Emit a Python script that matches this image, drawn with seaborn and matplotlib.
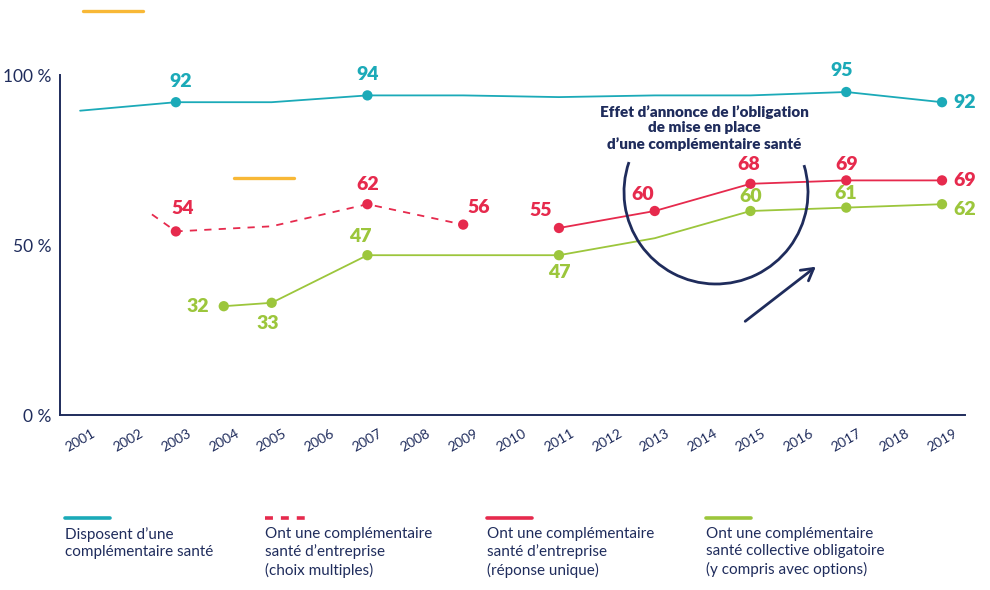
import pandas as pd
import seaborn as sns
import matplotlib.pyplot as plt
from matplotlib.lines import Line2D
from matplotlib.patches import Arc

# données
years = list(range(2001, 2020))

cyan_years = [2001, 2003, 2005, 2007, 2009, 2011, 2013, 2015, 2017, 2019]
cyan_vals = [89.5, 92, 92, 94, 94, 93.5, 94, 94, 95, 92]
cyan_marked = [2003, 2007, 2017, 2019]

multi_years = [2002.5, 2003, 2005, 2007, 2009]
multi_vals = [59, 54, 55.5, 62, 56]
multi_marked = [2003, 2007, 2009]

unique_years = [2011, 2013, 2015, 2017, 2019]
unique_vals = [55, 60, 68, 69, 69]
unique_marked = [2011, 2013, 2015, 2017, 2019]

green_years = [2004, 2005, 2007, 2011, 2013, 2015, 2017, 2019]
green_vals = [32, 33, 47, 47, 52, 60, 61, 62]
green_marked = [2004, 2005, 2007, 2011, 2015, 2017, 2019]

y_ticks = [0, 50, 100]
y_labels = ["0 %", "50 %", "100 %"]

legend_labels = [
    "Disposent d\u2019une\ncomplémentaire santé",
    "Ont une complémentaire\nsanté d\u2019entreprise\n(choix multiples)",
    "Ont une complémentaire\nsanté d\u2019entreprise\n(réponse unique)",
    "Ont une complémentaire\nsanté collective obligatoire\n(y compris avec options)",
]
note = "Effet d\u2019annonce de l\u2019obligation\nde mise en place\nd\u2019une complémentaire santé"

# couleurs
CYAN = "#1BAAB8"
RED = "#E62A4D"
GREEN = "#9CC63C"
NAVY = "#1F2C5C"
ORANGE = "#F8B836"

sns.set_theme(style="white")
plt.rcParams['font.family'] = ['Lato', 'DejaVu Sans']

fig = plt.figure(figsize=(9.9, 5.9), dpi=100)
ax = fig.add_axes([60 / 990, 1 - 415 / 590, 905 / 990, 340 / 590])

series = [
    (cyan_years, cyan_vals, cyan_marked, CYAN, "-"),
    (multi_years, multi_vals, multi_marked, RED, (0, (4, 4))),
    (unique_years, unique_vals, unique_marked, RED, "-"),
    (green_years, green_vals, green_marked, GREEN, "-"),
]
for xs, vs, marked, col, ls in series:
    df = pd.DataFrame({"annee": xs, "val": vs})
    sns.lineplot(data=df, x="annee", y="val", color=col, linewidth=1.3,
                 linestyle=ls, ax=ax)
    pts = df[df["annee"].isin(marked)]
    sns.scatterplot(data=pts, x="annee", y="val", color=col, s=55,
                    edgecolor="none", ax=ax, zorder=3)

# étiquettes de valeurs : (série, année, décalage en pixels)
offsets = [
    (0, 2003, 5, 21), (0, 2007, 0, 21), (0, 2017, -5, 21), (0, 2019, 23, 0),
    (1, 2003, 7, 23), (1, 2007, 0, 20), (1, 2009, 16, 17),
    (2, 2011, -18, 17), (2, 2013, -12, 16), (2, 2015, -2, 19),
    (2, 2017, 0, 16), (2, 2019, 23, 0),
    (3, 2004, -26, 0), (3, 2005, -4, -21), (3, 2007, -7, 19),
    (3, 2011, 0, -17), (3, 2015, 0, 15), (3, 2017, 0, 14), (3, 2019, 23, -5),
]
for i, yr, dx, dy in offsets:
    xs, vs, _, col, _ = series[i]
    v = vs[xs.index(yr)]
    ax.annotate(f"{v:g}", (yr, v), xytext=(dx, dy), textcoords="offset pixels",
                ha="center", va="center", color=col, fontsize=14,
                fontweight="heavy", annotation_clip=False)

ax.set_xlim(2000.58, 2019.48)
ax.set_ylim(0, 100)
ax.set_xticks(years)
ax.set_xticklabels([str(y) for y in years], rotation=30, ha="center",
                   color=NAVY, fontsize=10)
ax.set_yticks(y_ticks)
ax.set_yticklabels(y_labels, color=NAVY, fontsize=12.5)
ax.tick_params(length=0, pad=6)
ax.tick_params(axis="x", pad=9)
ax.set_xlabel("")
ax.set_ylabel("")
sns.despine(ax=ax)
for s in ["left", "bottom"]:
    ax.spines[s].set_color(NAVY)
    ax.spines[s].set_linewidth(1.4)

# annotation : effet d'annonce
fig.text(704 / 990, 1 - 128 / 590, note, ha="center", va="center",
         color=NAVY, fontsize=11, fontweight="heavy", linespacing=1.2)
fig.add_artist(Arc((7.16, 3.98), 1.84, 1.84, theta1=161, theta2=17,
                   transform=fig.dpi_scale_trans, color=NAVY, lw=2))
ax.annotate("", xy=(818, 325), xytext=(743, 267), xycoords="figure pixels",
            textcoords="figure pixels",
            arrowprops=dict(arrowstyle="->,head_length=0.7,head_width=0.4",
                            color=NAVY, lw=2))

# traits orange décoratifs
for x0, x1, y in [(83, 143, 579), (234, 294, 412)]:
    fig.add_artist(Line2D([x0 / 990, x1 / 990], [y / 590, y / 590],
                          transform=fig.transFigure, color=ORANGE, lw=2.4))

# légende
leg_x = [65, 265, 487, 706]
leg_style = [(CYAN, "-"), (RED, (0, (2.2, 2.2))), (RED, "-"), (GREEN, "-")]
for x, (col, ls), lab in zip(leg_x, leg_style, legend_labels):
    fig.add_artist(Line2D([x / 990, (x + 45) / 990], [1 - 518 / 590] * 2,
                          transform=fig.transFigure, color=col, lw=2.6,
                          linestyle=ls))
    fig.text(x / 990, 1 - 527 / 590, lab, ha="left", va="top", color=NAVY,
             fontsize=11, linespacing=1.3)

plt.savefig("out.png", dpi=100)
